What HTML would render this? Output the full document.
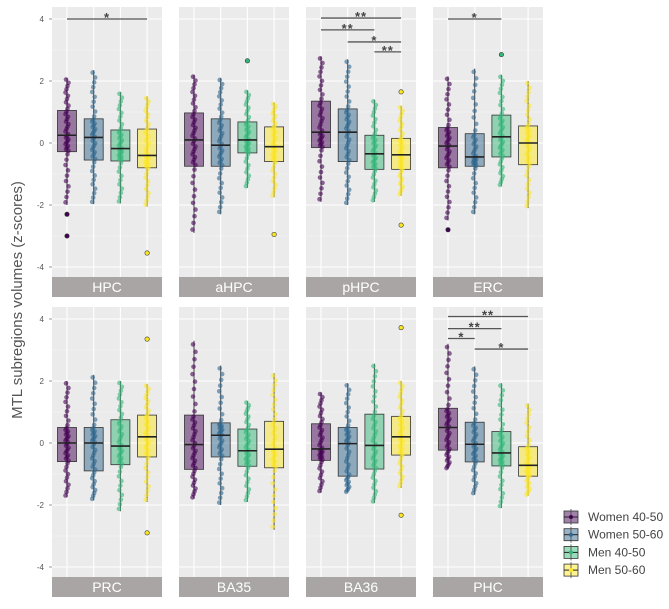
<!DOCTYPE html>
<html><head><meta charset="utf-8"><style>
body{margin:0;background:#fff;position:relative;}
svg{display:block;font-family:"Liberation Sans",sans-serif;}
</style></head><body>
<svg id="chart" width="669" height="609"></svg>
<script>
const panels=["HPC","aHPC","pHPC","ERC","PRC","BA35","BA36","PHC"];
const groups=["Women 40-50","Women 50-60","Men 40-50","Men 50-60"];
const colors=["#440154","#31688e","#35b779","#fde725"];
const yTicks=[4,2,0,-2,-4];
const medians=[[0.25,0.18,-0.18,-0.4],[0.1,-0.07,0.1,-0.12],[0.35,0.35,-0.35,-0.38],[-0.1,-0.45,0.2,0],
[0,0,-0.1,0.2],[-0.05,0.25,-0.25,-0.2],[-0.19,-0.02,-0.08,0.2],[0.5,-0.04,-0.32,-0.72]];
const q1s=[[-0.28,-0.55,-0.58,-0.8],[-0.75,-0.75,-0.32,-0.6],[-0.15,-0.6,-0.85,-0.85],[-0.8,-0.75,-0.45,-0.7],
[-0.6,-0.9,-0.7,-0.45],[-0.85,-0.45,-0.75,-0.8],[-0.56,-1.07,-0.84,-0.39],[-0.23,-0.61,-0.74,-1.07]];
const q3s=[[1.05,0.78,0.42,0.45],[0.97,0.78,0.68,0.52],[1.35,1.1,0.25,0.15],[0.5,0.3,0.9,0.55],
[0.5,0.5,0.75,0.9],[0.9,0.65,0.45,0.7],[0.62,0.5,0.93,0.86],[1.12,0.67,0.37,-0.12]];
const whiskLo=[[-2.0,-1.97,-1.95,-2.05],[-2.9,-2.3,-1.45,-1.75],[-1.9,-2.0,-1.9,-1.7],[-2.5,-2.3,-1.4,-2.1],
[-1.75,-1.85,-2.2,-1.9],[-1.8,-2.0,-1.9,-2.8],[-1.6,-1.6,-1.94,-1.45],[-0.84,-1.67,-2.1,-1.7]];
const whiskHi=[[2.1,2.35,1.65,1.5],[2.2,2.1,1.7,1.3],[2.8,2.7,1.4,1.2],[2.15,2.4,2.2,2.0],
[2.0,2.2,2.0,1.9],[3.3,2.5,1.35,2.25],[1.63,1.93,2.56,2.0],[3.2,2.47,1.93,1.27]];
const outliers=[[[-2.3,-3.0],[],[],[-3.55]],[[],[],[2.65],[-2.95]],[[],[],[],[1.65,-2.65]],[[-2.8],[],[2.85],[]],
[[],[],[],[3.35,-2.9]],[[],[],[],[]],[[],[],[],[3.72,-2.33]],[[],[],[],[]]];
const sigs=[[0,0,3,4.0,"*"],[2,0,3,4.03,"**"],[2,0,2,3.65,"**"],[2,1,3,3.26,"*"],[2,2,3,2.94,"**"],
[3,0,2,4.0,"*"],[7,0,3,4.08,"**"],[7,0,2,3.69,"**"],[7,0,1,3.37,"*"],[7,1,3,3.03,"*"]];

const NS="http://www.w3.org/2000/svg";
const svg=document.getElementById('chart');
function mk(t,a,p){const e=document.createElementNS(NS,t);for(const k in a)e.setAttribute(k,a[k]);(p||svg).appendChild(e);return e;}
const PX=[52,179,306,433],PW=110,ROWTOP=[7,307],PH=270;
function yS(row,v){return ROWTOP[row]+12+(4-v)*31;}
function xS(px,g){return px+15+g*26.7;}

panels.forEach((name,pi)=>{
  const row=Math.floor(pi/4),px=PX[pi%4],top=ROWTOP[row];
  const g0=mk('g',{});
  
  
  mk('rect',{x:px,y:top,width:PW,height:PH,fill:'#ebebeb'},g0);
  for(let v=-3;v<=3;v+=2) mk('line',{x1:px,x2:px+PW,y1:yS(row,v),y2:yS(row,v),stroke:'#f5f5f5','stroke-width':0.6},g0);
  yTicks.forEach(v=>mk('line',{x1:px,x2:px+PW,y1:yS(row,v),y2:yS(row,v),stroke:'#fff','stroke-width':1.1},g0));
  for(let g=0;g<4;g++) mk('line',{x1:xS(px,g),x2:xS(px,g),y1:top,y2:top+PH,stroke:'#fff','stroke-width':1.1},g0);
  if(pi%4===0){
    yTicks.forEach(v=>{
      const t=mk('text',{x:px-8,y:yS(row,v)+3,'font-size':8,fill:'#555','text-anchor':'end'});t.textContent=v;
      
      
      mk('line',{x1:px-3,x2:px,y1:yS(row,v),y2:yS(row,v),stroke:'#555','stroke-width':0.6});
    });
  }
  for(let g=0;g<4;g++){
    const x=xS(px,g),c=colors[g];
    const md=medians[pi][g],a=q1s[pi][g],b=q3s[pi][g],lo=whiskLo[pi][g],hi=whiskHi[pi][g];
    const bg=mk('g',{},g0);
    
    
    mk('line',{x1:x,x2:x,y1:yS(row,hi),y2:yS(row,lo),stroke:'#444','stroke-width':1},bg);
    mk('rect',{x:x-9.5,y:yS(row,b),width:19,height:yS(row,a)-yS(row,b),fill:c,'fill-opacity':0.5,stroke:'#333','stroke-width':0.8},bg);
    const n=40;
    for(let i=0;i<n;i++){
      const f=(i+0.5)/n;let v;
      if(f<0.25)v=lo+(a-lo)*(f/0.25);else if(f<0.5)v=a+(md-a)*((f-0.25)/0.25);else if(f<0.75)v=md+(b-md)*((f-0.5)/0.25);else v=b+(hi-b)*((f-0.75)/0.25);
      const jx=((i*37)%7-3)*0.5;
      mk('circle',{cx:x+jx,cy:yS(row,v),r:2.3,fill:c,'fill-opacity':0.6},bg);
    }
    mk('line',{x1:x-9.5,x2:x+9.5,y1:yS(row,md),y2:yS(row,md),stroke:'#222','stroke-width':1.6},bg);
    outliers[pi][g].forEach(v=>{
      const o=mk('circle',{cx:x,cy:yS(row,v),r:2.2,fill:c,stroke:'#333','stroke-width':0.6},bg);
      
      
    });
  }
  const sr=mk('rect',{x:px,y:top+PH,width:PW,height:20,fill:'#aaa5a5'},g0);
  
  
  const st=mk('text',{x:px+PW/2,y:top+PH+15,'font-size':14,fill:'#fff','text-anchor':'middle'},g0);st.textContent=name;
  
  
});
sigs.forEach(s=>{
  const [pi,f,t,v,l]=s,row=Math.floor(pi/4),px=PX[pi%4];
  const sg=mk('g',{});
  
  
  const y=yS(row,v);
  mk('line',{x1:xS(px,f),x2:xS(px,t),y1:y,y2:y,stroke:'#555','stroke-width':1.3},sg);
  const tx=mk('text',{x:(xS(px,f)+xS(px,t))/2,y:y+3,'font-size':13,'font-weight':'bold',fill:'#444','text-anchor':'middle','letter-spacing':'1'},sg);tx.textContent=l;
});
const yt=mk('text',{x:22,y:300,transform:'rotate(-90 22 300)','font-size':15,fill:'#555','text-anchor':'middle'});
yt.textContent='MTL subregions volumes (z-scores)';


const lg=mk('g',{});


groups.forEach((nm,i)=>{
  const y=511+i*17.7;
  const e=mk('g',{},lg);
  
  
  mk('rect',{x:564,y:y,width:14,height:12,fill:colors[i],'fill-opacity':0.5,stroke:'#333','stroke-width':0.8},e);
  mk('line',{x1:564,x2:578,y1:y+6,y2:y+6,stroke:'#222'},e);
  mk('line',{x1:571,x2:571,y1:y-2,y2:y+14,stroke:'#444','stroke-width':0.8},e);
  mk('circle',{cx:571,cy:y+6,r:2,fill:colors[i]},e);
  const t=mk('text',{x:588,y:y+10,'font-size':12,fill:'#444'},e);t.textContent=nm;
});
</script>
</body></html>
